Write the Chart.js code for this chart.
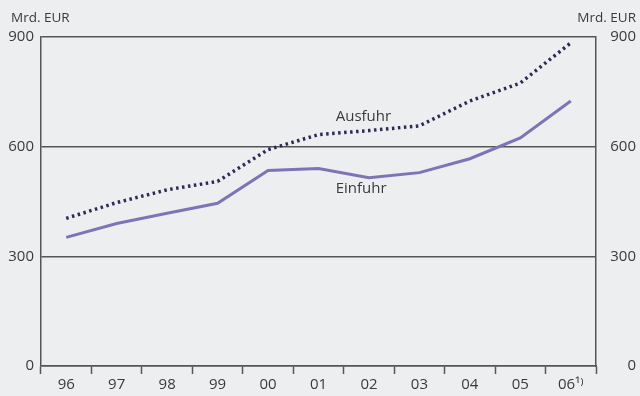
<!DOCTYPE html>
<html>
<head>
<meta charset="utf-8">
<script src="https://cdn.jsdelivr.net/npm/chart.js@4/dist/chart.umd.min.js"></script>
<style>
  html, body { margin: 0; padding: 0; background: #eceef0; }
  #wrap { width: 640px; height: 396px; }
</style>
</head>
<body>
<div id="wrap"><canvas id="canvas"></canvas></div>
<script>
// Außenhandel, Mrd. EUR
const years = ['96', '97', '98', '99', '00', '01', '02', '03', '04', '05', '06\u00b9\u207e'];
const ausfuhr = [404, 447, 482, 505, 592, 633, 644, 657, 725, 774, 884];
const einfuhr = [352, 390, 418, 445, 535, 540, 515, 529, 567, 624, 725];
const yTicks = [0, 300, 600, 900];

const textColor = '#3a3a3a';
const lineColor = '#555';
const font = { family: 'Open Sans', size: 15 };

// series names and unit labels drawn onto the canvas
const labelsPlugin = {
  id: 'labels',
  afterDraw(chart) {
    const ctx = chart.ctx;
    const x = chart.scales.x, y = chart.scales.y;
    ctx.save();
    ctx.fillStyle = textColor;
    ctx.font = '13.5px "Open Sans"';
    ctx.textBaseline = 'middle';
    ctx.textAlign = 'left';
    ctx.fillText('Mrd. EUR', 11, 18);
    ctx.textAlign = 'right';
    ctx.fillText('Mrd. EUR', 636, 18);
    ctx.font = '15px "Open Sans"';
    ctx.textAlign = 'left';
    const lx = (x.getPixelForValue(5) + x.getPixelForValue(6)) / 2 - 8;
    ctx.fillText('Ausfuhr', lx, y.getPixelForValue(681));
    ctx.fillText('Einfuhr', lx, y.getPixelForValue(484));
    ctx.restore();
  }
};

new Chart(document.getElementById('canvas'), {
  type: 'line',
  data: {
    labels: years,
    datasets: [{
      label: 'Ausfuhr',
      data: ausfuhr,
      borderColor: '#2c2b58',
      borderWidth: 3.5,
      borderDash: [2.5, 3.5],
      pointRadius: 0,
      tension: 0
    }, {
      label: 'Einfuhr',
      data: einfuhr,
      borderColor: '#8072b6',
      borderWidth: 3,
      pointRadius: 0,
      tension: 0
    }]
  },
  options: {
    responsive: true,
    maintainAspectRatio: false,
    animation: false,
    layout: { padding: { top: 37, left: 0, right: 4, bottom: 0 } },
    plugins: { legend: { display: false }, tooltip: { enabled: false } },
    scales: {
      x: {
        offset: true,
        grid: {
          offset: true,
          drawOnChartArea: false,
          drawTicks: true,
          tickLength: 8,
          tickColor: lineColor,
          tickWidth: 1.5
        },
        border: { display: true, color: lineColor, width: 1.5 },
        ticks: { color: textColor, font: font, padding: 2, maxRotation: 0, autoSkip: false },
        afterFit(s) { s.height = 30; }
      },
      y: {
        position: 'left',
        min: 0, max: 900,
        afterBuildTicks(s) { s.ticks = yTicks.map(v => ({ value: v })); },
        grid: { color: lineColor, lineWidth: 1.5, drawTicks: false },
        border: { display: true, color: lineColor, width: 1.5 },
        ticks: { color: textColor, font: font, padding: 7 },
        afterFit(s) { s.width = 41; }
      },
      y2: {
        position: 'right',
        min: 0, max: 900,
        afterBuildTicks(s) { s.ticks = yTicks.map(v => ({ value: v })); },
        grid: { display: false, drawTicks: false },
        border: { display: true, color: lineColor, width: 1.5 },
        ticks: { color: textColor, font: font, padding: 7, crossAlign: 'far' },
        afterFit(s) { s.width = 40; }
      }
    }
  },
  plugins: [labelsPlugin]
});
</script>
</body>
</html>
